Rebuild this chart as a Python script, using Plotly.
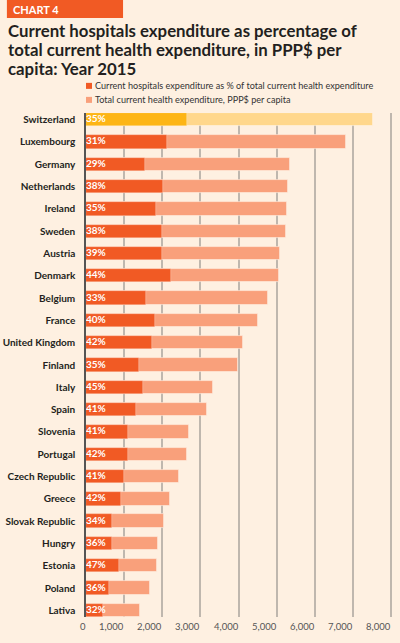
import plotly.graph_objects as go

countries = ["Switzerland", "Luxembourg", "Germany", "Netherlands", "Ireland", "Sweden",
             "Austria", "Denmark", "Belgium", "France", "United Kingdom", "Finland",
             "Italy", "Spain", "Slovenia", "Portugal", "Czech Republic", "Greece",
             "Slovak Republic", "Hungry", "Estonia", "Poland", "Lativa"]
total_ppp = [7530, 6820, 5340, 5290, 5270, 5250, 5090, 5050, 4770, 4520, 4110, 3980,
             3340, 3170, 2710, 2650, 2450, 2190, 2040, 1900, 1860, 1680, 1420]
hosp_pct = [35, 31, 29, 38, 35, 38, 39, 44, 33, 40, 42, 35, 45, 41, 41, 42, 41, 42,
            34, 36, 47, 36, 32]
x_ticks = [0, 1000, 2000, 3000, 4000, 5000, 6000, 7000, 8000]
x_tick_labels = ["0", "1,000", "2,000", "3,000", "4,000", "5,000", "6,000", "7,000", "8,000"]

title_lines = ["Current hospitals expenditure as percentage of",
               "total current health expenditure, in PPP$ per",
               "capita: Year 2015"]
legend_labels = ["Current hospitals expenditure as % of total current health expenditure",
                 "Total current health expenditure, PPP$ per capita"]

hosp_value = [t * p / 100 for t, p in zip(total_ppp, hosp_pct)]
ypos = list(range(len(countries)))

BG = "#FEF0E1"
ORANGE = "#F15A24"
SALMON = "#F9A07B"
GOLD = "#FDB515"
LIGHTGOLD = "#FFD78C"
FONT = "Lato"

total_colors = [LIGHTGOLD if c == "Switzerland" else SALMON for c in countries]
hosp_colors = [GOLD if c == "Switzerland" else ORANGE for c in countries]

W, H = 400, 643
L, T = 86, 113.3
PW = 306.6
PH = 503.4
R = W - L - PW
B = H - T - PH


def xp(px):
    return (px - L) / PW


def yp(py):
    return (T + PH - py) / PH


fig = go.Figure()
fig.add_trace(go.Bar(
    x=total_ppp, y=ypos, orientation="h", width=0.6,
    marker=dict(color=total_colors, line=dict(color="rgba(255,245,235,0.7)", width=0.8)),
    hoverinfo="skip", showlegend=False))
fig.add_trace(go.Bar(
    x=hosp_value, y=ypos, orientation="h", width=0.6,
    marker=dict(color=hosp_colors, line=dict(color="rgba(255,245,235,0.5)", width=0.6)),
    hoverinfo="skip", showlegend=False))
fig.add_trace(go.Scatter(
    x=[0] * len(ypos), y=ypos, mode="text",
    text=[f"{p}%" for p in hosp_pct], textposition="middle right",
    textfont=dict(family=FONT, size=10, color="white", weight="bold"),
    hoverinfo="skip", showlegend=False, cliponaxis=False))

annotations = []
# Chart label
annotations.append(dict(x=xp(11.5), y=yp(9.6), xref="paper", yref="paper", text="CHART 4",
                        showarrow=False, xanchor="left", yanchor="middle",
                        font=dict(family=FONT, size=11, color="white", weight="bold")))
# Title lines
for i, line in enumerate(title_lines):
    annotations.append(dict(x=xp(6.5), y=yp(31.0 + i * 18.7), xref="paper", yref="paper",
                            text=line, showarrow=False, xanchor="left", yanchor="middle",
                            font=dict(family=FONT, size=16.8, color="#231F20", weight="bold")))
# Legend
shapes = [dict(type="rect", xref="paper", yref="paper", x0=xp(7), x1=xp(123),
               y0=yp(0.5), y1=yp(18.3), fillcolor=ORANGE, line=dict(width=0), layer="below")]
for i, (lab, col) in enumerate(zip(legend_labels, [ORANGE, SALMON])):
    cy = 86.2 + i * 14
    shapes.append(dict(type="rect", xref="paper", yref="paper", x0=xp(86), x1=xp(92),
                       y0=yp(cy - 3), y1=yp(cy + 3), fillcolor=col, line=dict(width=0)))
    annotations.append(dict(x=xp(93), y=yp(cy), xref="paper", yref="paper", text=lab,
                            showarrow=False, xanchor="left", yanchor="middle",
                            font=dict(family=FONT, size=9.1, color="#333333")))
# X tick labels (right aligned to gridlines)
for v, lab in zip(x_ticks, x_tick_labels):
    annotations.append(dict(x=v, y=yp(626), xref="x", yref="paper", text=lab,
                            showarrow=False, xanchor="right", yanchor="middle", xshift=2,
                            font=dict(family=FONT, size=9.5, color="#555555")))

fig.update_layout(
    width=W, height=H,
    margin=dict(l=L, r=R, t=T, b=B, pad=0, autoexpand=False),
    paper_bgcolor=BG, plot_bgcolor=BG,
    barmode="overlay", bargap=0,
    showlegend=False, hovermode=False,
    annotations=annotations, shapes=shapes,
    xaxis=dict(range=[0, 8050], tickvals=x_ticks, showticklabels=False,
               showgrid=True, gridcolor="#BFB7AE", gridwidth=1.5, automargin=False,
               zeroline=False, showline=False, fixedrange=True),
    yaxis=dict(range=[len(countries) - 1 + 0.3, -0.3], tickmode="array",
               tickvals=ypos, ticktext=countries, ticks="", ticklabelstandoff=7,
               tickfont=dict(family=FONT, size=10, color="#231F20", weight="bold"),
               showgrid=False, zeroline=False, showline=True, automargin=False,
               linecolor="#555555", linewidth=1.5, fixedrange=True),
)

fig.write_html("out.html", config={"displayModeBar": False},
               post_script="document.body.style.margin='0';document.body.style.background='#FEF0E1';")
